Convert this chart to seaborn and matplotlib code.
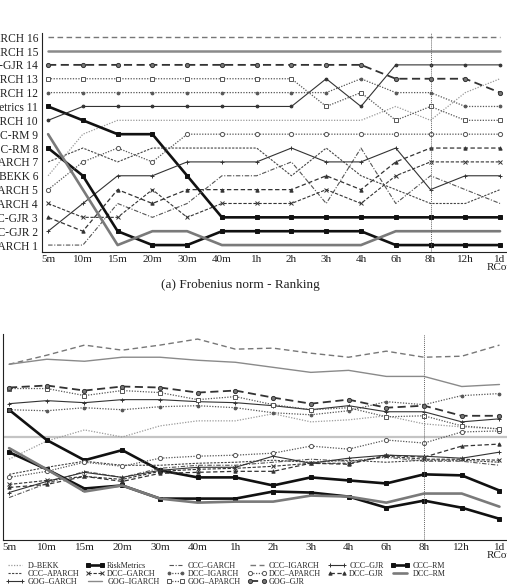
import numpy as np
import pandas as pd
import matplotlib
matplotlib.use("Agg")
import matplotlib.pyplot as plt
import seaborn as sns

sns.set_theme(style="white")
plt.rcParams['font.family'] = ['Liberation Serif', 'DejaVu Serif']

horizons = ["5m", "10m", "15m", "20m", "30m", "40m", "1h", "2h", "3h", "4h", "6h", "8h", "12h", "1d\nRCov"]
pos = np.arange(len(horizons))

# ---------------- Top panel: ranking ----------------
rank_labels = ["CCC-GARCH", "CCC-GJR", "DCC-GJR", "DCC-GARCH", "DCC-APARCH", "D-BEKK",
               "CCC-APARCH", "CCC-RM", "DCC-RM", "GOG-GARCH", "RiskMetrics", "DCC-IGARCH",
               "GOG-APARCH", "GOG-GJR", "GOG-IGARCH", "CCC-IGARCH"]

rank_CCC_IGARCH = [16, 16, 16, 16, 16, 16, 16, 16, 16, 16, 16, 16, 16, 16]
rank_GOG_IGARCH = [15, 15, 15, 15, 15, 15, 15, 15, 15, 15, 15, 15, 15, 15]
rank_GOG_GJR    = [14, 14, 14, 14, 14, 14, 14, 14, 14, 14, 13, 13, 13, 12]
rank_GOG_APARCH = [13, 13, 13, 13, 13, 13, 13, 13, 11, 12, 10, 11, 10, 10]
rank_DCC_IGARCH = [12, 12, 12, 12, 12, 12, 12, 12, 12, 13, 12, 12, 11, 11]
rank_RiskMetrics = [11, 10, 9, 9, 6, 3, 3, 3, 3, 3, 3, 3, 3, 3]
rank_GOG_GARCH  = [10, 11, 11, 11, 11, 11, 11, 11, 13, 11, 14, 14, 14, 14]
rank_DCC_RM     = [9, 5, 1, 2, 2, 1, 1, 1, 1, 1, 2, 2, 2, 2]
rank_CCC_RM     = [8, 6, 2, 1, 1, 2, 2, 2, 2, 2, 1, 1, 1, 1]
rank_CCC_APARCH = [7, 8, 7, 8, 8, 8, 8, 6, 8, 6, 5, 4, 4, 5]
rank_D_BEKK     = [6, 9, 10, 10, 10, 10, 10, 10, 10, 10, 11, 10, 12, 13]
rank_DCC_APARCH = [5, 7, 8, 7, 9, 9, 9, 9, 9, 9, 9, 9, 9, 9]
rank_DCC_GARCH  = [4, 3, 3, 5, 3, 4, 4, 4, 5, 4, 6, 7, 7, 7]
rank_DCC_GJR    = [3, 2, 5, 4, 5, 5, 5, 5, 6, 5, 7, 8, 8, 8]
rank_CCC_GJR    = [2, 4, 6, 6, 7, 7, 7, 8, 7, 7, 8, 5, 6, 6]
rank_CCC_GARCH  = [1, 1, 4, 3, 4, 6, 6, 7, 4, 8, 4, 6, 5, 4]

# ---------------- Bottom panel: loss ----------------
loss_CCC_IGARCH = [17.4, 18.3, 19.3, 18.8, 19.3, 19.9, 18.9, 19.0, 18.5, 18.1, 18.7, 18.1, 18.2, 19.3]
loss_GOG_IGARCH = [17.4, 17.9, 17.7, 18.1, 18.1, 17.8, 17.6, 17.1, 16.6, 16.8, 16.2, 16.2, 15.2, 15.4]
loss_GOG_GJR    = [15.1, 15.3, 14.8, 15.2, 15.1, 14.6, 14.8, 14.1, 13.5, 13.9, 13.1, 13.3, 12.3, 12.3]
loss_GOG_APARCH = [15.0, 15.0, 14.3, 14.8, 14.6, 13.9, 14.2, 13.4, 12.9, 13.1, 12.2, 12.3, 11.3, 11.0]
loss_GOG_GARCH  = [13.5, 13.8, 13.6, 13.9, 13.9, 13.7, 13.6, 13.3, 12.9, 13.3, 12.7, 12.7, 11.7, 12.0]
loss_DCC_IGARCH = [12.9, 12.8, 13.1, 12.9, 13.2, 13.3, 13.1, 12.6, 12.4, 12.8, 13.7, 13.4, 14.3, 14.5]
loss_RiskMetrics = [12.9, 9.9, 7.9, 8.9, 6.9, 6.2, 6.2, 5.4, 6.2, 5.9, 5.6, 6.5, 6.4, 4.9]
loss_D_BEKK     = [8.0, 9.8, 10.9, 10.2, 11.3, 11.8, 11.8, 12.5, 11.7, 11.9, 12.3, 11.5, 11.2, 11.0]
loss_DCC_APARCH = [6.2, 6.8, 7.7, 7.3, 8.1, 8.3, 8.4, 8.6, 9.3, 9.0, 9.9, 9.6, 10.7, 10.8]
loss_CCC_APARCH = [6.5, 7.2, 7.8, 7.4, 7.4, 7.6, 7.7, 7.9, 7.7, 7.9, 7.7, 7.9, 7.9, 7.7]
loss_CCC_GJR    = [4.7, 5.8, 6.7, 6.2, 6.9, 7.2, 7.2, 8.3, 7.6, 8.1, 8.4, 8.3, 8.1, 8.7]
loss_DCC_GJR    = [5.2, 5.5, 6.3, 5.8, 6.6, 6.7, 6.8, 6.8, 7.6, 7.5, 8.4, 8.2, 9.3, 9.5]
loss_DCC_GARCH  = [5.5, 5.9, 6.3, 6.0, 6.8, 7.0, 7.1, 7.3, 7.6, 7.6, 8.3, 8.0, 8.0, 7.9]
loss_CCC_GARCH  = [4.2, 5.6, 6.8, 6.2, 7.1, 7.4, 7.4, 7.7, 8.0, 7.8, 8.2, 7.8, 7.8, 7.4]
loss_CCC_RM     = [8.7, 7.0, 5.1, 5.4, 4.1, 4.1, 4.1, 4.8, 4.7, 4.3, 3.2, 3.9, 3.2, 2.1]
loss_DCC_RM     = [9.1, 7.0, 4.8, 5.4, 4.1, 3.7, 3.8, 3.8, 4.4, 4.3, 3.7, 4.6, 4.6, 3.3]
loss_reference = 10.2

models = ["D-BEKK", "RiskMetrics", "CCC-GARCH", "CCC-IGARCH", "CCC-GJR", "CCC-RM",
          "CCC-APARCH", "DCC-GARCH", "DCC-IGARCH", "DCC-APARCH", "DCC-GJR", "DCC-RM",
          "GOG-GARCH", "GOG-IGARCH", "GOG-APARCH", "GOG-GJR"]

ranks = {
    "D-BEKK": rank_D_BEKK, "RiskMetrics": rank_RiskMetrics, "CCC-GARCH": rank_CCC_GARCH,
    "CCC-IGARCH": rank_CCC_IGARCH, "CCC-GJR": rank_CCC_GJR, "CCC-RM": rank_CCC_RM,
    "CCC-APARCH": rank_CCC_APARCH, "DCC-GARCH": rank_DCC_GARCH, "DCC-IGARCH": rank_DCC_IGARCH,
    "DCC-APARCH": rank_DCC_APARCH, "DCC-GJR": rank_DCC_GJR, "DCC-RM": rank_DCC_RM,
    "GOG-GARCH": rank_GOG_GARCH, "GOG-IGARCH": rank_GOG_IGARCH, "GOG-APARCH": rank_GOG_APARCH,
    "GOG-GJR": rank_GOG_GJR,
}
losses = {
    "D-BEKK": loss_D_BEKK, "RiskMetrics": loss_RiskMetrics, "CCC-GARCH": loss_CCC_GARCH,
    "CCC-IGARCH": loss_CCC_IGARCH, "CCC-GJR": loss_CCC_GJR, "CCC-RM": loss_CCC_RM,
    "CCC-APARCH": loss_CCC_APARCH, "DCC-GARCH": loss_DCC_GARCH, "DCC-IGARCH": loss_DCC_IGARCH,
    "DCC-APARCH": loss_DCC_APARCH, "DCC-GJR": loss_DCC_GJR, "DCC-RM": loss_DCC_RM,
    "GOG-GARCH": loss_GOG_GARCH, "GOG-IGARCH": loss_GOG_IGARCH, "GOG-APARCH": loss_GOG_APARCH,
    "GOG-GJR": loss_GOG_GJR,
}

dot = (0, (1, 1.2))
finedash = (0, (2, 1.2))
styles = {
    "D-BEKK":     dict(color="#9a9a9a", ls=dot, lw=0.9, marker=None),
    "RiskMetrics": dict(color="#111111", ls="-", lw=1.9, marker="s", ms=2.2, mfc="#111111"),
    "CCC-GARCH":  dict(color="#555555", ls=(0, (4, 1.5, 1, 1.5)), lw=0.8, marker=None),
    "CCC-IGARCH": dict(color="#777777", ls=(0, (4, 2.5)), lw=1.0, marker=None),
    "CCC-GJR":    dict(color="#333333", ls="-", lw=0.8, marker="+", ms=3.5, mfc="none"),
    "CCC-RM":     dict(color="#111111", ls="-", lw=1.9, marker="s", ms=2.2, mfc="#111111"),
    "CCC-APARCH": dict(color="#444444", ls=finedash, lw=0.8, marker=None),
    "DCC-GARCH":  dict(color="#333333", ls=(0, (3, 1.5)), lw=0.8, marker="x", ms=2.8, mfc="none"),
    "DCC-IGARCH": dict(color="#555555", ls=dot, lw=0.9, marker="o", ms=2.0, mfc="#555555"),
    "DCC-APARCH": dict(color="#555555", ls=dot, lw=0.9, marker="o", ms=3.0, mfc="white"),
    "DCC-GJR":    dict(color="#333333", ls=(0, (3.5, 2)), lw=0.9, marker="^", ms=2.4, mfc="#333333"),
    "DCC-RM":     dict(color="#7a7a7a", ls="-", lw=1.9, marker=None),
    "GOG-GARCH":  dict(color="#333333", ls="-", lw=0.8, marker="+", ms=3.5, mfc="none"),
    "GOG-IGARCH": dict(color="#8a8a8a", ls="-", lw=1.0, marker=None),
    "GOG-APARCH": dict(color="#555555", ls=dot, lw=0.9, marker="s", ms=3.0, mfc="white"),
    "GOG-GJR":    dict(color="#333333", ls=(0, (4.5, 2.5)), lw=1.3, marker="o", ms=3.0, mfc="#777777"),
}
top_override = {
    "GOG-IGARCH": dict(lw=1.8),
    "GOG-GARCH": dict(marker="o", ms=2.0, mfc="#333333"),
}

W, H = 507, 588
fig = plt.figure(figsize=(W / 100, H / 100), dpi=100)
ax1 = fig.add_axes([41.5 / W, 1 - 252 / H, 1 - 41.5 / W, (252 - 33) / H])
ax2 = fig.add_axes([3 / W, 1 - 540 / H, 1 - 3 / W, (540 - 334) / H])


def draw(ax, name, vals, extra=None):
    st = dict(styles[name])
    if extra:
        st.update(extra)
    kw = dict(color=st["color"], linestyle=st["ls"], linewidth=st["lw"])
    if st.get("marker"):
        kw.update(marker=st["marker"], markersize=st["ms"], markerfacecolor=st["mfc"],
                  markeredgecolor=st["color"], markeredgewidth=0.7)
    sns.lineplot(x=pos, y=vals, ax=ax, legend=False, sort=False, **kw)
    return ax.lines[-1]


for name in models:
    draw(ax1, name, ranks[name], top_override.get(name))

handles = {}
ax2.axhline(loss_reference, color="#c4c4c4", lw=1.6, zorder=1)
for name in models:
    handles[name] = draw(ax2, name, losses[name])

for ax in (ax1, ax2):
    ax.axvline(11, color="#666666", ls=(0, (1, 1)), lw=0.7)
    for s in ("top", "right"):
        ax.spines[s].set_visible(False)
    for s in ("left", "bottom"):
        ax.spines[s].set_color("#222222")
        ax.spines[s].set_linewidth(0.8)
    ax.set_xticks(pos)
    ax.set_xticklabels(horizons, fontsize=8, linespacing=0.75)
    ax.tick_params(axis="both", direction="in", length=3, width=0.6, colors="#222222",
                   labelcolor="#222222", pad=2.5)
    ax.set_xlabel("")
    ax.set_ylabel("")

ax1.set_xlim(-0.19, 13.2)
ax1.set_ylim(0.5, 16.3)
ax1.set_yticks(range(1, 17))
ax1.set_yticklabels([f"{lab} {i}" for i, lab in enumerate(rank_labels, start=1)], fontsize=8.3)

ax2.set_xlim(-0.16, 13.2)
ax2.set_ylim(0, 20.4)
ax2.set_yticks(np.arange(0, 21, 1))
ax2.set_yticklabels([])

fig.text(240 / W, 1 - 285 / H, "(a) Frobenius norm - Ranking", ha="center", va="center",
         fontsize=9.5, color="#222222")

order = ["D-BEKK", "CCC-APARCH", "GOG-GARCH",
         "RiskMetrics", "DCC-GARCH", "GOG-IGARCH",
         "CCC-GARCH", "DCC-IGARCH", "GOG-APARCH",
         "CCC-IGARCH", "DCC-APARCH", "GOG-GJR",
         "CCC-GJR", "DCC-GJR",
         "CCC-RM", "DCC-RM"]
leg = fig.legend([handles[n] for n in order], [n.replace("-", "\u2013") for n in order],
                 ncol=6, loc="upper left", bbox_to_anchor=(6 / W, 1 - 561.5 / H),
                 frameon=False, fontsize=5.8, handlelength=2.3, handletextpad=0.35,
                 columnspacing=0.85, labelspacing=0.0, borderpad=0, borderaxespad=0,
                 numpoints=2)
for t in leg.get_texts():
    t.set_color("#222222")

fig.savefig("out.png", dpi=100, facecolor="white")
